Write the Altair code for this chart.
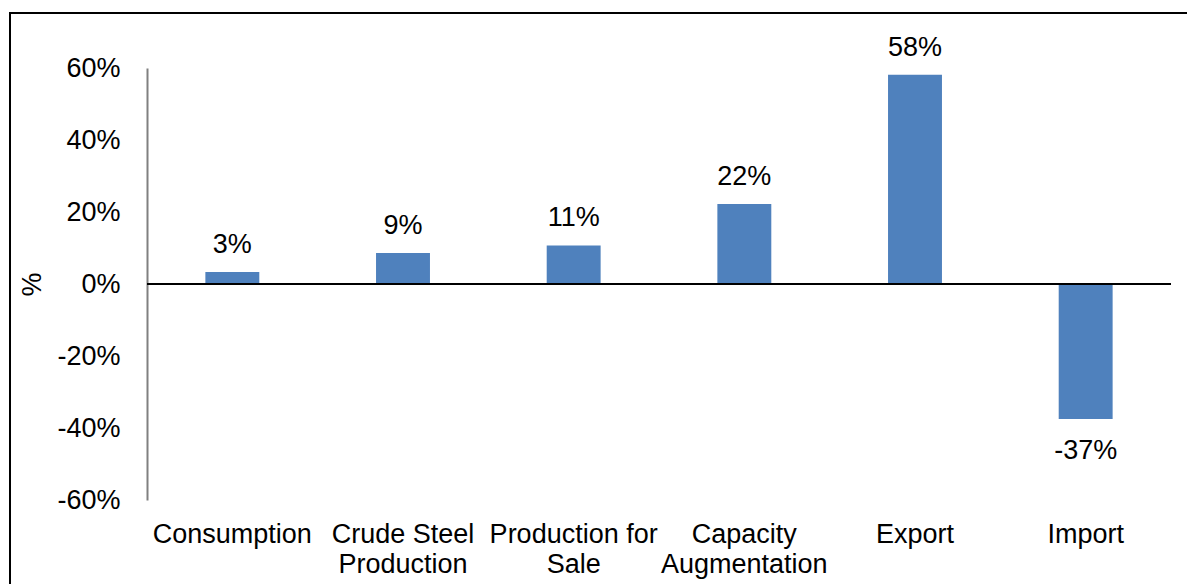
import altair as alt
import pandas as pd

categories = ["Consumption", "Crude Steel|Production", "Production for|Sale",
              "Capacity|Augmentation", "Export", "Import"]
values = [3.3, 8.6, 10.7, 22.2, 58.1, -37.5]
labels = ["3%", "9%", "11%", "22%", "58%", "-37%"]

df = pd.DataFrame({"cat": categories, "val": values, "lab": labels})

FONT = "Liberation Sans"
FS = 27
W, H = 1024, 432
LEFT, TOP = 147, 68

x = alt.X("cat:N", sort=categories,
          scale=alt.Scale(paddingInner=0.684, paddingOuter=0.342),
          axis=alt.Axis(title=None, labelAngle=0, domain=False, ticks=False,
                        labelPadding=21, labelFontSize=FS, labelFont=FONT,
                        labelColor="black", labelLineHeight=30,
                        labelExpr="split(datum.label, '|')"))
y = alt.Y("val:Q", scale=alt.Scale(domain=[-60, 60], nice=False),
          axis=alt.Axis(title="%", values=[-60, -40, -20, 0, 20, 40, 60],
                        labelExpr="datum.value + '%'", grid=False, ticks=False,
                        domainColor="#808080", domainWidth=2,
                        labelPadding=27, labelFontSize=FS, labelFont=FONT,
                        labelColor="black", titleFont=FONT, titleFontSize=FS,
                        titleFontWeight="normal", titleColor="black",
                        titleAngle=-90, titleX=-115, titleY=216,
                        titleAlign="center", titleBaseline="middle"))

base = alt.Chart(df)
bars = base.mark_bar(color="#4F81BD").encode(x=x, y=y)
pos_text = base.transform_filter("datum.val >= 0").mark_text(
    baseline="bottom", dy=-13, fontSize=FS, font=FONT, color="black"
).encode(x=alt.X("cat:N", sort=categories), y="val:Q", text="lab:N")
neg_text = base.transform_filter("datum.val < 0").mark_text(
    baseline="top", dy=19, fontSize=FS, font=FONT, color="black"
).encode(x=alt.X("cat:N", sort=categories), y="val:Q", text="lab:N")

frame_df = pd.DataFrame({"d": [0]})
zero = alt.Chart(frame_df).mark_rule(color="black", strokeWidth=2).encode(
    x=alt.value(0), x2=alt.value(W), y=alt.datum(0))
frame = alt.Chart(frame_df).mark_rect(filled=False, stroke="black", strokeWidth=2).encode(
    x=alt.value(10 - LEFT), y=alt.value(13 - TOP),
    x2=alt.value(1187 - LEFT + 20), y2=alt.value(584 - TOP + 20))

chart = alt.layer(bars, zero, pos_text, neg_text, frame).properties(
    width=W, height=H,
    autosize=alt.AutoSizeParams(type="none"),
    padding={"left": LEFT, "top": TOP, "right": 1187 - LEFT - W, "bottom": 584 - TOP - H},
    background="white",
).configure_view(stroke=None)

chart.save("out.html", embed_options={"renderer": "svg", "actions": False})
